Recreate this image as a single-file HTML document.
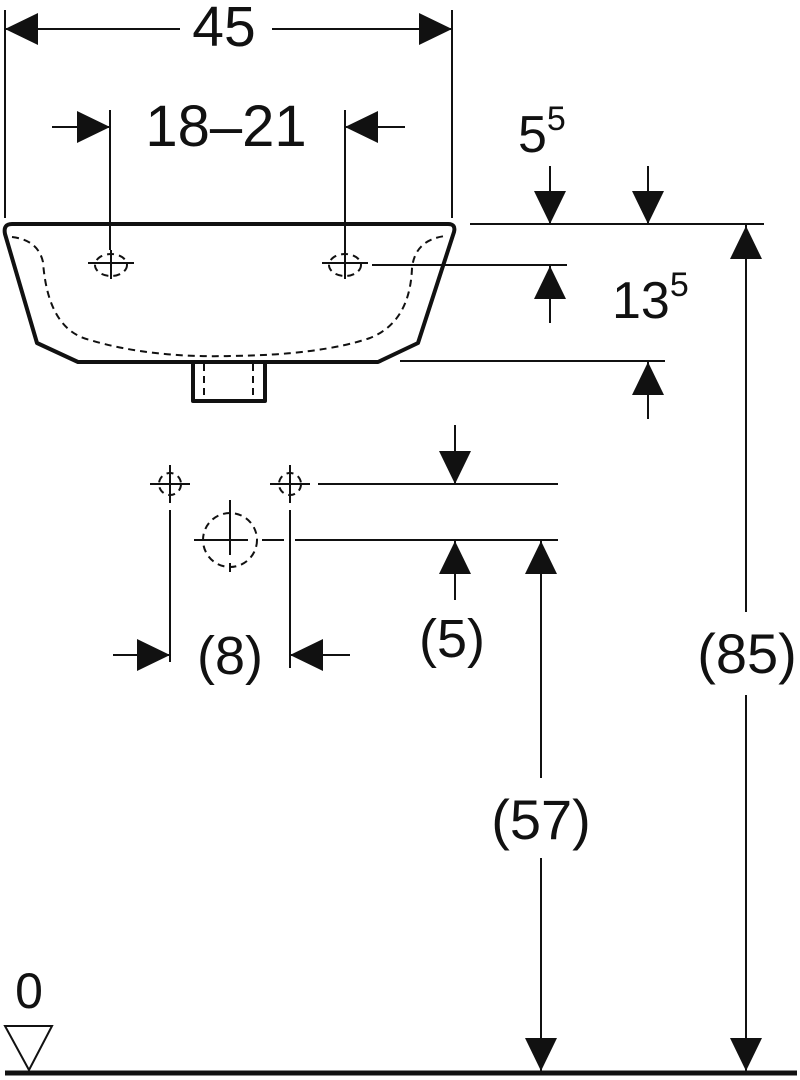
<!DOCTYPE html>
<html><head><style>html,body{margin:0;padding:0;background:#fff}svg{display:block}text{font-family:"Liberation Sans",Arial,sans-serif;fill:#111}</style></head>
<body>
<svg width="800" height="1080" viewBox="0 0 800 1080" xmlns="http://www.w3.org/2000/svg">
<g stroke="#111" stroke-width="2" fill="none">
<line x1="5" y1="10" x2="5" y2="218"/>
<line x1="452" y1="10" x2="452" y2="218"/>
<line x1="5" y1="29" x2="180" y2="29"/>
<line x1="272" y1="29" x2="452" y2="29"/>
<line x1="110" y1="110" x2="110" y2="250"/>
<line x1="345" y1="110" x2="345" y2="250"/>
<line x1="52" y1="127" x2="110" y2="127"/>
<line x1="345" y1="127" x2="405" y2="127"/>
<line x1="470" y1="224" x2="764" y2="224"/>
<line x1="550" y1="166" x2="550" y2="224"/>
<line x1="648" y1="166" x2="648" y2="224"/>
<line x1="372" y1="265" x2="567" y2="265"/>
<line x1="550" y1="265" x2="550" y2="323"/>
<line x1="400" y1="361" x2="665" y2="361"/>
<line x1="648" y1="361" x2="648" y2="419"/>
<line x1="318" y1="484" x2="558" y2="484"/>
<line x1="455" y1="425" x2="455" y2="484"/>
<line x1="262" y1="540" x2="284" y2="540"/>
<line x1="295" y1="540" x2="558" y2="540"/>
<line x1="455" y1="540" x2="455" y2="600"/>
<line x1="170" y1="510" x2="170" y2="662"/>
<line x1="290" y1="510" x2="290" y2="668"/>
<line x1="113" y1="655" x2="170" y2="655"/>
<line x1="290" y1="655" x2="350" y2="655"/>
<line x1="541" y1="540" x2="541" y2="778"/>
<line x1="541" y1="858" x2="541" y2="1072"/>
<line x1="746" y1="224" x2="746" y2="612"/>
<line x1="746" y1="695" x2="746" y2="1072"/>
</g>
<g fill="#111">
<polygon points="5,29 38,13 38,45"/>
<polygon points="452,29 419,13 419,45"/>
<polygon points="110,127 77,111 77,143"/>
<polygon points="345,127 378,111 378,143"/>
<polygon points="550,224 534,191 566,191"/>
<polygon points="648,224 632,191 664,191"/>
<polygon points="550,266 534,299 566,299"/>
<polygon points="648,362 632,395 664,395"/>
<polygon points="746,226 730,259 762,259"/>
<polygon points="455,484 439,451 471,451"/>
<polygon points="455,541 439,574 471,574"/>
<polygon points="541,541 525,574 557,574"/>
<polygon points="541,1071 525,1038 557,1038"/>
<polygon points="746,1071 730,1038 762,1038"/>
<polygon points="170,655 137,639 137,671"/>
<polygon points="290,655 323,639 323,671"/>
</g>
<g stroke="#111" stroke-width="4" fill="none" stroke-linejoin="round">
<path d="M12,224 L448,224 Q456,224 454,232 L418,343 L378,362 L78,362 L37,343 L5,234 Q3,224 12,224 Z"/>
<path d="M193,362 L193,401 L265,401 L265,362"/>
</g>
<g stroke="#111" stroke-width="2" fill="none" stroke-dasharray="7,5">
<path d="M12,237 Q38,240 43,262 Q48,330 90,340 Q150,358 230,356 Q320,355 370,338 Q410,322 412,268 Q415,240 445,236"/>
<line x1="204" y1="364" x2="204" y2="400"/>
<line x1="253" y1="364" x2="253" y2="400"/>
<ellipse cx="111" cy="265" rx="16" ry="11"/>
<ellipse cx="345" cy="265" rx="16" ry="11"/>
<circle cx="170" cy="484" r="11"/>
<circle cx="290" cy="484" r="11"/>
<circle cx="230" cy="540" r="27"/>
</g>
<g stroke="#111" stroke-width="2">
<line x1="88" y1="263" x2="134" y2="263"/><line x1="111" y1="250" x2="111" y2="279"/>
<line x1="322" y1="263" x2="368" y2="263"/><line x1="345" y1="250" x2="345" y2="279"/>
<line x1="150" y1="484" x2="190" y2="484"/><line x1="170" y1="465" x2="170" y2="503"/>
<line x1="270" y1="484" x2="310" y2="484"/><line x1="290" y1="465" x2="290" y2="503"/>
<line x1="194" y1="540" x2="248" y2="540"/><line x1="230" y1="500" x2="230" y2="555"/><line x1="230" y1="563" x2="230" y2="572"/>
</g>
<line x1="5" y1="1073" x2="797" y2="1073" stroke="#111" stroke-width="5"/>
<polygon points="5,1026 52,1026 29,1070" fill="none" stroke="#111" stroke-width="2"/>
<text x="29" y="1008" font-size="50" text-anchor="middle">0</text>
<text x="224" y="46" font-size="57" text-anchor="middle">45</text>
<text x="226" y="146" font-size="58" text-anchor="middle">18–21</text>
<text x="518" y="152" font-size="52">5<tspan font-size="34" dy="-22">5</tspan></text>
<text x="612" y="318" font-size="52">13<tspan font-size="34" dy="-22">5</tspan></text>
<text x="452" y="657" font-size="54" text-anchor="middle">(5)</text>
<text x="230" y="674" font-size="54" text-anchor="middle">(8)</text>
<text x="541" y="839" font-size="56" text-anchor="middle">(57)</text>
<text x="747" y="673" font-size="56" text-anchor="middle">(85)</text>
</svg>
</body></html>
